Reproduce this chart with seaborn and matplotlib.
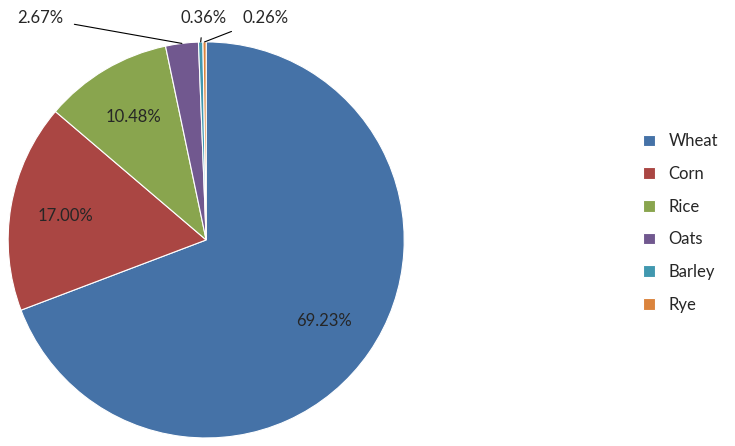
import numpy as np
import matplotlib
matplotlib.use("Agg")
import matplotlib.pyplot as plt
import seaborn as sns

crops = ["Wheat", "Corn", "Rice", "Oats", "Barley", "Rye"]
shares = [69.23, 17.00, 10.48, 2.67, 0.36, 0.26]
colors = ["#4572A7", "#AA4643", "#89A54E", "#71588F", "#4198AF", "#DB843D"]

sns.set_style("white")
plt.rcParams['font.family'] = ['Lato', 'DejaVu Sans']

fig = plt.figure(figsize=(7.35, 4.46), dpi=100)
ax = fig.add_axes([0.011, 0.018, 0.539, 0.888])
wedges, _ = ax.pie(shares, colors=colors, startangle=90, counterclock=False,
                   wedgeprops=dict(edgecolor="white", linewidth=0.8))
ax.set_aspect("equal")
ax.set_xlim(-1, 1)
ax.set_ylim(-1, 1)

# labels inside big slices, outside with leader lines for small ones
outside = {3: (-0.84, 1.12), 4: (-0.015, 1.12), 5: (0.30, 1.12)}
for i, (w, s) in enumerate(zip(wedges, shares)):
    ang = np.deg2rad((w.theta1 + w.theta2) / 2)
    txt = f"{s:.2f}%"
    if i in outside:
        tx, ty = outside[i]
        ex, ey = np.cos(ang), np.sin(ang)
        ax.annotate(txt, xy=(ex, ey), xytext=(tx, ty), fontsize=12,
                    ha="center", va="center", annotation_clip=False,
                    arrowprops=dict(arrowstyle="-", color="black", lw=0.8,
                                    shrinkA=6, shrinkB=0))
    else:
        r = 0.72
        ax.text(r * np.cos(ang), r * np.sin(ang), txt, fontsize=12,
                ha="center", va="center")

fig.legend(wedges, crops, loc="center left", bbox_to_anchor=(0.855, 0.5),
           frameon=False, fontsize=12, handlelength=0.7, handleheight=0.7,
           labelspacing=1.0)
fig.savefig("out.png", dpi=100)
